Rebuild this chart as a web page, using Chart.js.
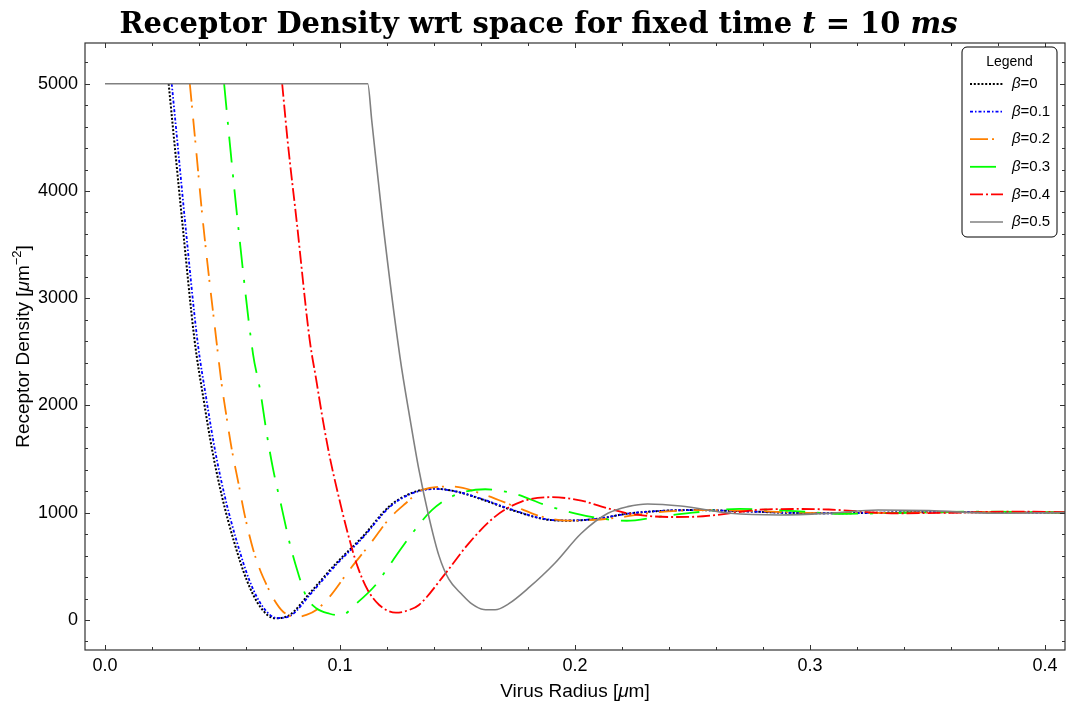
<!DOCTYPE html>
<html>
<head>
<meta charset="utf-8">
<script src="https://cdn.jsdelivr.net/npm/chart.js@4.4.1/dist/chart.umd.min.js"></script>
<style>
  html, body { margin: 0; padding: 0; background: #fff; }
  #wrap { position: relative; width: 1067px; height: 703px; }
  canvas { position: absolute; left: 0; top: 0; }
  #title {
    position: absolute; left: 0; top: 6px; width: 1077px; text-align: center;
    font: bold 29px "DejaVu Serif", serif; color: #000; white-space: nowrap;
  }
</style>
</head>
<body>
<div id="wrap">
  <canvas id="chart" width="1067" height="703"></canvas>
  <div id="title">Receptor Density wrt space for fixed time <i>t</i> = 10 <i>ms</i></div>
</div>
<script>
// values
const betas = ["0", "0.1", "0.2", "0.3", "0.4", "0.5"];
const xTicks = [0, 0.1, 0.2, 0.3, 0.4];
const yTicks = [0, 1000, 2000, 3000, 4000, 5000];

// the flat 5000 stretch is only visible on the β=0.5 curve
const x0 = [0.0271, 0.0295, 0.0328, 0.0381, 0.0420, 0.0456, 0.0498, 0.0547, 0.0603, 0.0660, 0.0723, 0.0786, 0.0871, 0.0984, 0.1097, 0.1209, 0.1300, 0.1400, 0.1500, 0.1590, 0.1730, 0.1870, 0.1970, 0.2100, 0.2220, 0.2350, 0.2500, 0.2700, 0.2900, 0.3100, 0.3300, 0.3500, 0.3750, 0.4100];
const y0 = [5000, 4460, 3731, 2612, 2052, 1586, 1151, 746, 373, 124, 16, 47, 249, 529, 778, 1058, 1180, 1225, 1195, 1135, 1026, 940, 926, 945, 990, 1015, 1025, 1015, 1000, 995, 1000, 1005, 1005, 1000];

const x1 = [0.0284, 0.0308, 0.0340, 0.0393, 0.0432, 0.0468, 0.0510, 0.0559, 0.0614, 0.0671, 0.0733, 0.0793, 0.0874, 0.0986, 0.1098, 0.1210, 0.1300, 0.1405, 0.1500, 0.1595, 0.1735, 0.1875, 0.1975, 0.2100, 0.2220, 0.2350, 0.2500, 0.2700, 0.2900, 0.3100, 0.3300, 0.3500, 0.3750, 0.4100];
const y1 = [5000, 4460, 3731, 2612, 2052, 1586, 1151, 746, 373, 124, 18, 45, 240, 520, 770, 1050, 1175, 1222, 1195, 1135, 1026, 940, 928, 945, 990, 1015, 1025, 1015, 1000, 995, 1000, 1005, 1005, 1000];

const x2 = [0.0361, 0.0385, 0.0416, 0.0476, 0.0495, 0.0516, 0.0540, 0.0568, 0.0596, 0.0631, 0.0660, 0.0688, 0.0716, 0.0758, 0.0815, 0.0857, 0.0899, 0.0956, 0.1040, 0.1125, 0.1210, 0.1280, 0.1350, 0.1477, 0.1618, 0.1745, 0.1858, 0.1970, 0.2083, 0.2200, 0.2350, 0.2550, 0.2700, 0.2900, 0.3100, 0.3300, 0.3600, 0.4100];
const y2 = [5000, 4450, 3731, 2570, 2223, 1912, 1586, 1275, 964, 653, 466, 326, 202, 77, 28, 47, 93, 217, 466, 700, 945, 1088, 1213, 1244, 1166, 1057, 964, 926, 933, 960, 1005, 1025, 1020, 1005, 995, 998, 1005, 1002];

const x3 = [0.0507, 0.0531, 0.0564, 0.0630, 0.0660, 0.0688, 0.0716, 0.0751, 0.0786, 0.0822, 0.0857, 0.0899, 0.0956, 0.1005, 0.1068, 0.1153, 0.1195, 0.1252, 0.1308, 0.1392, 0.1491, 0.1618, 0.1745, 0.1872, 0.1999, 0.2100, 0.2220, 0.2350, 0.2500, 0.2700, 0.2900, 0.3150, 0.3400, 0.3700, 0.4100];
const y3 = [5000, 4450, 3731, 2480, 2146, 1742, 1399, 1057, 715, 435, 217, 109, 58, 42, 150, 330, 460, 640, 809, 1026, 1166, 1219, 1175, 1073, 995, 950, 925, 960, 1000, 1035, 1020, 990, 1000, 1010, 1002];

const x4 = [0.0754, 0.0778, 0.0815, 0.0871, 0.0899, 0.0927, 0.0956, 0.0991, 0.1033, 0.1075, 0.1118, 0.1167, 0.1238, 0.1294, 0.1336, 0.1449, 0.1548, 0.1660, 0.1773, 0.1900, 0.2027, 0.2110, 0.2210, 0.2310, 0.2420, 0.2520, 0.2600, 0.2800, 0.2950, 0.3080, 0.3370, 0.3600, 0.3860, 0.4100];
const y4 = [5000, 4450, 3731, 2612, 2239, 1866, 1524, 1182, 809, 497, 280, 140, 68, 93, 140, 435, 715, 964, 1104, 1145, 1113, 1060, 1001, 970, 960, 964, 979, 1030, 1035, 1030, 995, 1000, 1010, 1005];

const x5 = [0, 0.1118, 0.1135, 0.1181, 0.1255, 0.1300, 0.1336, 0.1378, 0.1421, 0.1463, 0.1519, 0.1561, 0.1611, 0.1660, 0.1717, 0.1801, 0.1914, 0.2027, 0.2140, 0.2224, 0.2309, 0.2450, 0.2661, 0.2872, 0.3080, 0.3290, 0.3506, 0.3790, 0.4100];
const y5 = [5000, 5000, 4660, 3731, 2456, 1850, 1399, 964, 600, 380, 238, 150, 98, 95, 150, 296, 529, 809, 995, 1057, 1082, 1063, 995, 979, 995, 1026, 1020, 995, 1001];

const series = [[x0, y0], [x1, y1], [x2, y2], [x3, y3], [x4, y4], [x5, y5]];

const looks = [
  { color: "#000000", dash: [2, 1.8], width: 2 },
  { color: "#0000ff", dash: [3, 2, 1.5, 2], width: 1.8 },
  { color: "#ff8000", dash: [18, 4, 2, 11], width: 1.8 },
  { color: "#00ff00", dash: [26, 12, 3, 12], width: 1.8 },
  { color: "#ff0000", dash: [13, 3, 2, 3], width: 1.8 },
  { color: "#808080", dash: [], width: 1.6 },
];

const FONT = "'Liberation Sans', Arial, sans-serif";

const datasets = series.map((s, i) => ({
  label: "β=" + betas[i],
  data: s[0].map((x, j) => ({ x: x, y: s[1][j] })),
  borderColor: looks[i].color,
  borderDash: looks[i].dash,
  borderWidth: looks[i].width,
  pointRadius: 0,
  fill: false,
  cubicInterpolationMode: "monotone",
  order: 5 - i,
}));

// draws a run of [text, font, dy] pieces starting at x
function drawRuns(ctx, runs, x, y) {
  runs.forEach(([t, f, dy]) => {
    ctx.font = f;
    ctx.fillText(t, x, y + (dy || 0));
    x += ctx.measureText(t).width;
  });
}
function runsWidth(ctx, runs) {
  let w = 0;
  runs.forEach(([t, f]) => { ctx.font = f; w += ctx.measureText(t).width; });
  return w;
}

// Mathematica-like frame with inward ticks, axis titles and the boxed legend
const framePlugin = {
  id: "frame",
  afterDraw(chart) {
    const ctx = chart.ctx;
    const a = chart.chartArea;
    const xs = chart.scales.x, ys = chart.scales.y;
    ctx.save();
    ctx.strokeStyle = "#333";
    ctx.lineWidth = 1.2;
    ctx.strokeRect(a.left, a.top, a.right - a.left, a.bottom - a.top);

    ctx.lineWidth = 1;
    ctx.beginPath();
    for (let k = Math.ceil(xs.min / 0.02); k <= Math.floor(xs.max / 0.02); k++) {
      const px = Math.round(xs.getPixelForValue(k * 0.02)) + 0.5;
      const len = k % 5 === 0 ? 5 : 3;
      ctx.moveTo(px, a.bottom); ctx.lineTo(px, a.bottom - len);
      ctx.moveTo(px, a.top); ctx.lineTo(px, a.top + len);
    }
    for (let k = Math.ceil(ys.min / 200); k <= Math.floor(ys.max / 200); k++) {
      const py = Math.round(ys.getPixelForValue(k * 200)) + 0.5;
      const len = k % 5 === 0 ? 5 : 3;
      ctx.moveTo(a.left, py); ctx.lineTo(a.left + len, py);
      ctx.moveTo(a.right, py); ctx.lineTo(a.right - len, py);
    }
    ctx.stroke();

    // axis titles
    const reg = "19px " + FONT, ita = "italic 19px " + FONT, sup = "13px " + FONT;
    ctx.fillStyle = "#000";
    ctx.textAlign = "left";
    ctx.textBaseline = "alphabetic";
    const xRuns = [["Virus Radius [", reg], ["μ", ita], ["m]", reg]];
    drawRuns(ctx, xRuns, (a.left + a.right) / 2 - runsWidth(ctx, xRuns) / 2, 697);

    const yRuns = [["Receptor Density [", reg], ["μ", ita], ["m", reg], ["−2", sup, -8], ["]", reg]];
    ctx.save();
    ctx.translate(29, (a.top + a.bottom) / 2);
    ctx.rotate(-Math.PI / 2);
    drawRuns(ctx, yRuns, -runsWidth(ctx, yRuns) / 2, 0);
    ctx.restore();

    // legend
    const L = 962, T = 47, W = 95, H = 190, r = 5;
    ctx.beginPath();
    ctx.moveTo(L + r, T);
    ctx.arcTo(L + W, T, L + W, T + H, r);
    ctx.arcTo(L + W, T + H, L, T + H, r);
    ctx.arcTo(L, T + H, L, T, r);
    ctx.arcTo(L, T, L + W, T, r);
    ctx.closePath();
    ctx.fillStyle = "#fff";
    ctx.fill();
    ctx.strokeStyle = "#000";
    ctx.lineWidth = 1;
    ctx.stroke();

    ctx.fillStyle = "#000";
    ctx.textBaseline = "middle";
    ctx.textAlign = "center";
    ctx.font = "14px " + FONT;
    ctx.fillText("Legend", L + W / 2, T + 15);

    chart.data.datasets.forEach((d, i) => {
      const y = T + 37 + i * 27.6;
      ctx.beginPath();
      ctx.strokeStyle = d.borderColor;
      ctx.lineWidth = d.borderWidth;
      ctx.setLineDash(d.borderDash);
      ctx.moveTo(L + 8, y);
      ctx.lineTo(L + 41, y);
      ctx.stroke();
      ctx.setLineDash([]);
      ctx.textAlign = "left";
      drawRuns(ctx, [["β", "italic 15px " + FONT], ["=" + betas[i], "15px " + FONT]], L + 50, y);
    });
    ctx.restore();
  },
};

new Chart(document.getElementById("chart"), {
  type: "line",
  data: { datasets: datasets },
  options: {
    responsive: false,
    animation: false,
    layout: { padding: { top: 43, right: 2, bottom: 0, left: 0 } },
    plugins: { legend: { display: false }, tooltip: { enabled: false } },
    scales: {
      x: {
        type: "linear",
        min: -0.0085,
        max: 0.4085,
        afterBuildTicks: (s) => { s.ticks = xTicks.map((v) => ({ value: v })); },
        afterFit: (s) => { s.height = 53; },
        grid: { display: false, drawTicks: false },
        border: { display: false },
        ticks: {
          padding: 5, color: "#000", autoSkip: false, maxRotation: 0,
          font: { family: FONT, size: 18 },
          callback: (v) => v.toFixed(1),
        },
      },
      y: {
        min: -280,
        max: 5380,
        afterBuildTicks: (s) => { s.ticks = yTicks.map((v) => ({ value: v })); },
        afterFit: (s) => { s.width = 85; },
        grid: { display: false, drawTicks: false },
        border: { display: false },
        ticks: {
          padding: 7, color: "#000", autoSkip: false,
          font: { family: FONT, size: 18 },
          callback: (v) => String(v),
        },
      },
    },
  },
  plugins: [framePlugin],
});
</script>
</body>
</html>
